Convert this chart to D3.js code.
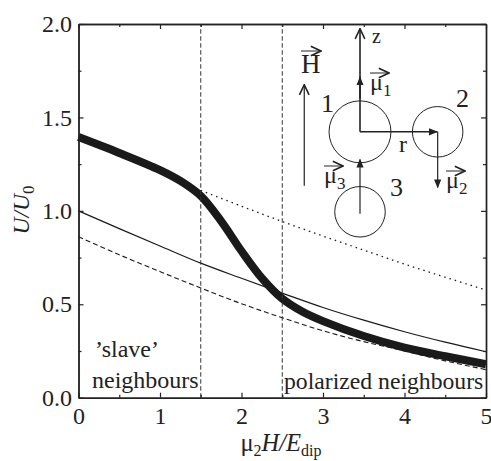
<!DOCTYPE html>
<html>
<head>
<meta charset="utf-8">
<script src="https://cdnjs.cloudflare.com/ajax/libs/d3/7.8.5/d3.min.js"></script>
<style>
html, body { margin: 0; padding: 0; background: white; }
svg { display: block; }
text { font-family: "Liberation Serif", serif; fill: #222; }
</style>
</head>
<body>
<script>
// values
var fieldThick = [0, 0.5, 1, 1.25, 1.5, 1.75, 2, 2.25, 2.5, 2.75, 3, 3.5, 4, 4.5, 5];
var energyThick = [1.395, 1.31, 1.218, 1.16, 1.08, 0.945, 0.785, 0.64, 0.53, 0.46, 0.41, 0.33, 0.268, 0.222, 0.179];
var fieldThin = [0, 0.5, 1, 1.5, 2, 2.5, 3, 3.5, 4, 4.5, 5];
var energyThin = [1.0, 0.905, 0.812, 0.72, 0.639, 0.56, 0.483, 0.415, 0.353, 0.297, 0.246];
var fieldDashed = [0, 0.5, 1, 1.5, 2, 2.5, 3, 3.5, 4, 4.5, 5];
var energyDashed = [0.861, 0.765, 0.675, 0.587, 0.503, 0.428, 0.358, 0.30, 0.25, 0.197, 0.15];
var fieldDotted = [1.5, 2, 2.5, 3, 3.5, 4, 4.5, 5];
var energyDotted = [1.11, 1.025, 0.943, 0.865, 0.79, 0.715, 0.645, 0.576];
var regionLines = [1.5, 2.5];
var xTicks = [0, 1, 2, 3, 4, 5];
var xMinor = [0.5, 1.5, 2.5, 3.5, 4.5];
var yTicks = [0, 0.5, 1, 1.5, 2];
var yMinor = [0.25, 0.75, 1.25, 1.75];

// inset sketch, in axis units
var circleNames = ["1", "2", "3"];
var circleX = [3.454, 4.407, 3.454];
var circleY = [1.423, 1.423, 0.995];
var circleR = [0.38, 0.31, 0.31];

var width = 491, height = 461;
var left = 78.5, right = 486, top_ = 24, bottom = 397.7;

var x = d3.scaleLinear().domain([0, 5]).range([left, right]);
var y = d3.scaleLinear().domain([0, 2]).range([bottom, top_]);

var canvas = d3.select("body").append("svg")
	.attr("width", width)
	.attr("height", height);

var defs = canvas.append("defs");
defs.append("marker")
	.attr("id", "head")
	.attr("viewBox", "0 0 10 10")
	.attr("refX", 9).attr("refY", 5)
	.attr("markerUnits", "userSpaceOnUse")
	.attr("markerWidth", 9).attr("markerHeight", 9)
	.attr("orient", "auto")
	.append("path")
	.attr("d", "M0,1 L10,5 L0,9 Z")
	.style("fill", "#222");
defs.append("marker")
	.attr("id", "open")
	.attr("viewBox", "0 0 10 10")
	.attr("refX", 9.5).attr("refY", 5)
	.attr("markerUnits", "userSpaceOnUse")
	.attr("markerWidth", 12).attr("markerHeight", 12)
	.attr("orient", "auto")
	.append("path")
	.attr("d", "M1,1 L9.5,5 L1,9")
	.style("fill", "none")
	.style("stroke", "#222")
	.style("stroke-width", 1.3);

/*
Draws a curve from two arrays.
*/
function curve(xs, ys, sw, dash) {
	var line = d3.line()
		.x(function(d) { return x(d); })
		.y(function(d, i) { return y(ys[i]); })
		.curve(d3.curveCatmullRom.alpha(0.5));
	canvas.append("path")
		.attr("d", line(xs))
		.style("fill", "none")
		.style("stroke", "#1a1a1a")
		.style("stroke-width", sw)
		.style("stroke-dasharray", dash);
}

curve(fieldThin, energyThin, 1.2, null);
curve(fieldDashed, energyDashed, 1.1, "5,3");
curve(fieldDotted, energyDotted, 1.3, "1.5,4");
curve(fieldThick, energyThick, 8, null);

canvas.selectAll(".region")
	.data(regionLines)
	.enter()
	.append("line")
	.attr("class", "region")
	.attr("x1", function(d) { return x(d); })
	.attr("x2", function(d) { return x(d); })
	.attr("y1", y(0))
	.attr("y2", y(2))
	.style("stroke", "#333")
	.style("stroke-width", 1)
	.style("stroke-dasharray", "4.5,2.5");

/*
Adds an axis with inward ticks, labels only if asked.
*/
function addAxis(axis, tr, values, len, labels, pad) {
	axis.tickValues(values).tickSizeInner(len).tickSizeOuter(0).tickPadding(pad || 8);
	if (labels) axis.tickFormat(labels);
	else axis.tickFormat("");
	var g = canvas.append("g")
		.attr("transform", tr)
		.call(axis);
	g.selectAll("line").style("stroke", "#222").style("stroke-width", 1.2);
	g.selectAll("path").style("stroke", "#222").style("stroke-width", 1.4);
	g.selectAll("text")
		.style("font-family", "Liberation Serif, serif")
		.style("font-size", "24px")
		.style("fill", "#222");
	return g;
}

addAxis(d3.axisBottom(x), "translate(0," + bottom + ")", xTicks, -5, d3.format("d"), 9);
addAxis(d3.axisBottom(x), "translate(0," + bottom + ")", xMinor, -3);
addAxis(d3.axisTop(x), "translate(0," + top_ + ")", xTicks, -5);
addAxis(d3.axisTop(x), "translate(0," + top_ + ")", xMinor, -3);
addAxis(d3.axisLeft(y), "translate(" + left + ",0)", yTicks, -5, d3.format(".1f"), 6.5);
addAxis(d3.axisLeft(y), "translate(" + left + ",0)", yMinor, -3);
addAxis(d3.axisRight(y), "translate(" + right + ",0)", yTicks, -5);
addAxis(d3.axisRight(y), "translate(" + right + ",0)", yMinor, -3);

// axis titles, kept just inside the window
var xTitle = canvas.append("text")
	.attr("x", 281).attr("y", 451)
	.attr("text-anchor", "middle")
	.style("font-size", "24.5px");
xTitle.append("tspan").text("μ");
xTitle.append("tspan").text("2").attr("dy", 5).style("font-size", "16px");
xTitle.append("tspan").text("H/E").attr("dy", -5).style("font-style", "italic");
xTitle.append("tspan").text("dip").attr("dy", 5).style("font-size", "16px");

var yTitle = canvas.append("text")
	.attr("transform", "translate(29,210) rotate(-90)")
	.attr("text-anchor", "middle")
	.style("font-size", "23.5px");
yTitle.append("tspan").text("U/U").style("font-style", "italic");
yTitle.append("tspan").text("0").attr("dy", 5).style("font-size", "17px");

// region labels
canvas.append("text").text("’slave’").attr("x", 95).attr("y", 357).style("font-size", "24px");
canvas.append("text").text("neighbours").attr("x", 92).attr("y", 388).style("font-size", "24px");
canvas.append("text").text("polarized neighbours").attr("x", 284).attr("y", 389).style("font-size", "23.7px");

// inset
canvas.selectAll(".atom")
	.data(circleNames)
	.enter()
	.append("circle")
	.attr("class", "atom")
	.attr("cx", function(d, i) { return x(circleX[i]); })
	.attr("cy", function(d, i) { return y(circleY[i]); })
	.attr("r", function(d, i) { return x(circleR[i]) - x(0); })
	.style("fill", "none")
	.style("stroke", "#222")
	.style("stroke-width", 1);

function arrow(x1, y1, x2, y2, head, sw) {
	canvas.append("line")
		.attr("x1", x(x1)).attr("y1", y(y1))
		.attr("x2", x(x2)).attr("y2", y(y2))
		.attr("marker-end", "url(#" + head + ")")
		.style("stroke", "#222")
		.style("stroke-width", sw);
}

arrow(3.454, 1.423, 3.454, 1.975, "open", 1.6);   // z
arrow(3.454, 1.6, 3.454, 1.715, "head", 1.6);     // mu1
arrow(3.454, 1.423, 4.40, 1.423, "head", 1.5);    // r
arrow(4.407, 1.423, 4.407, 1.125, "head", 1.2);   // mu2
arrow(3.454, 0.985, 3.454, 1.275, "head", 1.2);   // mu3
arrow(2.77, 1.135, 2.77, 1.675, "open", 1.2);     // H

function vecLabel(name, sub, px, py, size, lift, w) {
	var t = canvas.append("text").attr("x", px).attr("y", py).style("font-size", size + "px");
	t.append("tspan").text(name);
	if (sub) t.append("tspan").text(sub).attr("dy", 6).style("font-size", "17px");
	canvas.append("line")
		.attr("x1", px).attr("x2", px + w)
		.attr("y1", py - lift).attr("y2", py - lift)
		.attr("marker-end", "url(#open)")
		.style("stroke", "#222")
		.style("stroke-width", 1);
}

vecLabel("H", null, 301, 73, 27, 22, 20);
vecLabel("μ", "1", 370, 90, 24, 17, 19);
vecLabel("μ", "2", 446, 188, 24, 17, 19);
vecLabel("μ", "3", 324, 183, 24, 17, 19);

canvas.append("text").text("1").attr("x", 321).attr("y", 112).style("font-size", "26px");
canvas.append("text").text("2").attr("x", 456).attr("y", 107).style("font-size", "26px");
canvas.append("text").text("3").attr("x", 390).attr("y", 196).style("font-size", "26px");
canvas.append("text").text("z").attr("x", 372).attr("y", 43).style("font-size", "20px");
canvas.append("text").text("r").attr("x", 399).attr("y", 152).style("font-size", "24px");
</script>
</body>
</html>
